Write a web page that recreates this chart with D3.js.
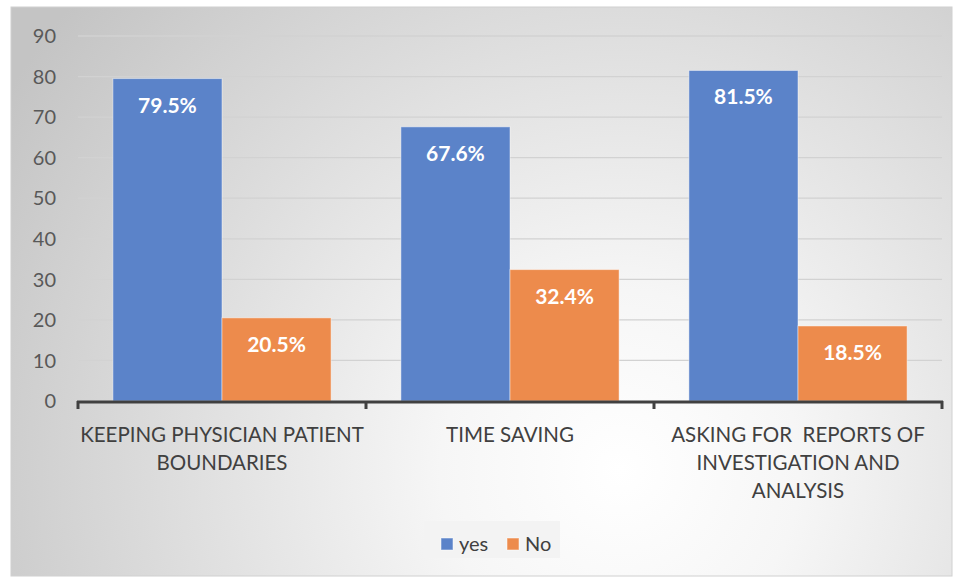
<!DOCTYPE html>
<html><head><meta charset="utf-8">
<script src="https://cdn.jsdelivr.net/npm/d3@7"></script>
<style>body{margin:0;background:#fff}svg{display:block}</style>
</head><body>
<script>
const categories = [["KEEPING PHYSICIAN PATIENT","BOUNDARIES"],["TIME SAVING"],["ASKING FOR  REPORTS OF","INVESTIGATION AND","ANALYSIS"]];
const seriesNames = ["yes","No"];
const yesValues = [79.5, 67.6, 81.5];
const noValues = [20.5, 32.4, 18.5];
const yTicks = [0,10,20,30,40,50,60,70,80,90];
const colors = ["#5b83c9","#ed8b4c"];

const W=959,H=578;
const FONT="Lato, 'Open Sans', sans-serif";
const svg=d3.select("body").append("svg").attr("width",W).attr("height",H);
const defs=svg.append("defs");
const rg=defs.append("radialGradient").attr("id","bg").attr("gradientUnits","userSpaceOnUse")
  .attr("cx",620).attr("cy",470).attr("r",720);
rg.append("stop").attr("offset","0").attr("stop-color","#ffffff");
rg.append("stop").attr("offset","0.25").attr("stop-color","#f6f6f6");
rg.append("stop").attr("offset","1").attr("stop-color","#c4c4c4");
svg.append("rect").attr("x",11).attr("y",7).attr("width",941).attr("height",569).attr("fill","url(#bg)")
  .attr("stroke","#d0d0d0").attr("stroke-width",1);

const x0=d3.scaleBand().domain(d3.range(3)).range([78,942]).paddingInner(0).paddingOuter(0);
const x1=d3.scaleBand().domain([0,1]).range([0,x0.bandwidth()]).paddingOuter(0.32).paddingInner(0);
const y=d3.scaleLinear().domain([0,90]).range([401,36]);

// gridlines
svg.append("g").selectAll("line").data(yTicks.filter(d=>d>0)).join("line")
  .attr("x1",78).attr("x2",942).attr("y1",d=>y(d)).attr("y2",d=>y(d))
  .attr("stroke","#d2d2d2").attr("stroke-width",1.3);

// y labels
svg.append("g").selectAll("text").data(yTicks).join("text")
  .attr("x",56).attr("y",d=>y(d)).attr("dy","0.36em").attr("text-anchor","end")
  .attr("font-family",FONT).attr("font-size",20).attr("fill","#595959")
  .text(d=>d);

const series=[yesValues,noValues];
const g=svg.append("g");
series.forEach((vals,si)=>{
  g.selectAll(".b"+si).data(vals).join("rect")
    .attr("x",(d,i)=>x0(i)+x1(si)).attr("width",x1.bandwidth())
    .attr("y",d=>y(d)).attr("height",d=>y(0)-y(d))
    .attr("fill",colors[si]).attr("stroke","rgba(255,255,255,0.45)").attr("stroke-width",1);
  g.selectAll(".l"+si).data(vals).join("text")
    .attr("x",(d,i)=>x0(i)+x1(si)+x1.bandwidth()/2).attr("y",d=>y(d)+34)
    .attr("text-anchor","middle").attr("font-family",FONT)
    .attr("font-weight","bold").attr("font-size",21).attr("fill","#fff")
    .text(d=>d.toFixed(1)+"%");
});

// x axis
const ax=svg.append("g");
ax.append("line").attr("x1",77).attr("x2",943).attr("y1",402).attr("y2",402).attr("stroke","#404040").attr("stroke-width",3);
ax.selectAll(".t").data([0,1,2,3]).join("line")
  .attr("x1",d=>d<3?x0(d):942).attr("x2",d=>d<3?x0(d):942).attr("y1",401).attr("y2",409)
  .attr("stroke","#404040").attr("stroke-width",3);
categories.forEach((lines,i)=>{
  const t=svg.append("text").attr("text-anchor","middle").attr("font-family",FONT)
    .attr("font-size",20.5).attr("fill","#404040");
  lines.forEach((ln,j)=>t.append("tspan").attr("x",x0(i)+x0.bandwidth()/2).attr("y",442+j*28).attr("xml:space","preserve").text(ln));
});

// legend
const lg=svg.append("g");
lg.append("rect").attr("x",424).attr("y",521).attr("width",136).attr("height",37).attr("fill","#f3f3f3");
const items=[{x:441,name:seriesNames[0],c:colors[0]},{x:507,name:seriesNames[1],c:colors[1]}];
items.forEach(it=>{
  lg.append("rect").attr("x",it.x).attr("y",538).attr("width",12).attr("height",12).attr("fill",it.c).attr("stroke","rgba(255,255,255,0.5)");
  lg.append("text").attr("x",it.x+18).attr("y",551).attr("font-family",FONT)
    .attr("font-size",20).attr("fill","#404040").text(it.name);
});
</script>
</body></html>
